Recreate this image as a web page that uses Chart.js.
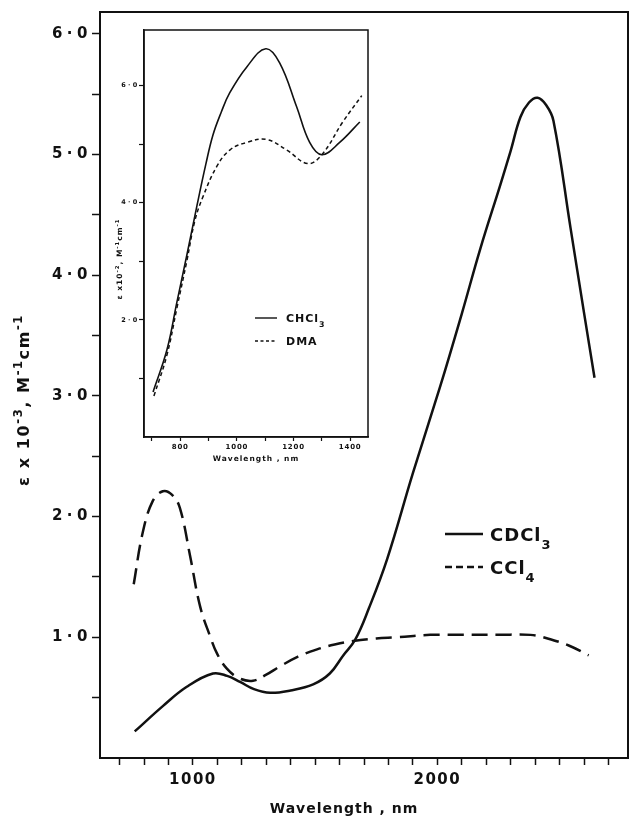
<!DOCTYPE html>
<html><head><meta charset="utf-8">
<script src="https://cdn.jsdelivr.net/npm/chart.js@4.4.1/dist/chart.umd.min.js"></script>
<style>
html,body{margin:0;padding:0;background:#fff;}
#wrap{position:relative;width:630px;height:822px;overflow:hidden;}
#main{position:absolute;left:0;top:0;}
#inset{position:absolute;left:104px;top:24px;}
</style></head><body>
<div id="wrap"><canvas id="main" width="630" height="822"></canvas><canvas id="inset" width="268" height="444"></canvas></div>
<script>
// ---- Main chart data (wavelength nm, epsilon x 10^-3) ----
const wlCDCl3  = [762, 877, 975, 1082, 1140, 1193, 1250, 1316, 1400, 1492, 1560, 1615, 1664, 1720, 1795, 1900, 2012, 2100, 2176, 2258, 2300, 2340, 2375, 2410, 2445, 2475, 2545, 2600, 2643];
const epsCDCl3 = [0.22, 0.43, 0.59, 0.70, 0.68, 0.63, 0.57, 0.54, 0.56, 0.61, 0.70, 0.85, 0.98, 1.24, 1.65, 2.36, 3.08, 3.68, 4.22, 4.75, 5.03, 5.31, 5.43, 5.47, 5.41, 5.28, 4.39, 3.69, 3.15];
const wlCCl4   = [758, 795, 836, 877, 915, 947, 988, 1029, 1070, 1100, 1139, 1190, 1246, 1300, 1357, 1430, 1508, 1580, 1656, 1750, 1836, 1971, 2100, 2250, 2381, 2451, 2540, 2619];
const epsCCl4  = [1.44, 1.87, 2.13, 2.21, 2.18, 2.07, 1.68, 1.26, 1.01, 0.86, 0.74, 0.66, 0.64, 0.69, 0.76, 0.84, 0.90, 0.94, 0.97, 0.99, 1.00, 1.02, 1.02, 1.02, 1.02, 0.99, 0.93, 0.85];
const mainXTicks  = [700, 800, 900, 1000, 1100, 1200, 1300, 1400, 1500, 1600, 1700, 1800, 1900, 2000, 2100, 2200, 2300, 2400, 2500, 2600, 2700];
const mainXLabels = [1000, 2000];
const mainYTicks  = [0.5, 1, 1.5, 2, 2.5, 3, 3.5, 4, 4.5, 5, 5.5, 6];
const mainYLabels = [1, 2, 3, 4, 5, 6];

// ---- Inset data (wavelength nm, epsilon x 10^-2) ----
const wlCHCl3  = [704, 753, 788, 823, 859, 890, 915, 945, 975, 1035, 1102, 1151, 1211, 1257, 1300, 1363, 1434];
const epsCHCl3 = [0.77, 1.49, 2.30, 3.10, 3.95, 4.65, 5.15, 5.55, 5.88, 6.32, 6.63, 6.39, 5.64, 5.03, 4.82, 5.03, 5.38];
const wlDMA    = [707, 753, 788, 823, 852, 880, 929, 975, 1035, 1105, 1176, 1250, 1300, 1374, 1441];
const epsDMA   = [0.70, 1.40, 2.20, 3.00, 3.70, 4.10, 4.62, 4.90, 5.03, 5.08, 4.90, 4.67, 4.82, 5.38, 5.83];
const insetXTicks  = [700, 800, 900, 1000, 1100, 1200, 1300, 1400];
const insetXLabels = [800, 1000, 1200, 1400];
const insetYTicks  = [1, 2, 3, 4, 5, 6];
const insetYLabels = [2, 4, 6];

const INK = '#111';
const FAM = '"DejaVu Sans", "Liberation Sans", sans-serif';
const pts = (xs, ys) => xs.map((x, i) => ({x, y: ys[i]}));
const dotFmt = v => v.toFixed(1).replace('.', '\u200A\u00B7\u200A');
const setTicks = list => (s => { s.ticks = list.map(v => ({value: v})); });

function drawRich(ctx, parts, x, y, size, align) {
  const f = s => `bold ${s}px ${FAM}`;
  let total = 0;
  const ws = parts.map(([t, m]) => { ctx.font = f(m ? size * 0.72 : size); const w = ctx.measureText(t).width; total += w; return w; });
  let cx = align === 'center' ? x - total / 2 : x;
  ctx.textAlign = 'left';
  ctx.textBaseline = 'alphabetic';
  parts.forEach(([t, m], i) => {
    ctx.font = f(m ? size * 0.72 : size);
    const dy = m === 1 ? -size * 0.45 : (m === -1 ? size * 0.45 : 0);
    ctx.fillText(t, cx, y + dy);
    cx += ws[i];
  });
}

function spacingPlugin(name, sp) {
  return { id: name, beforeDraw(chart) { chart.ctx.letterSpacing = sp + 'px'; } };
}

const mainDecor = {
  id: 'mainDecor',
  afterDraw(chart) {
    const {ctx, chartArea: a} = chart;
    ctx.save();
    ctx.strokeStyle = INK; ctx.lineWidth = 2;
    ctx.strokeRect(a.left, a.top, a.right - a.left, a.bottom - a.top);
    ctx.fillStyle = INK;
    ctx.letterSpacing = '1px';
    drawRich(ctx, [['Wavelength , nm', 0]], 344, 813, 14, 'center');
    ctx.save();
    ctx.translate(29, 400);
    ctx.rotate(-Math.PI / 2);
    ctx.letterSpacing = '1.6px';
    drawRich(ctx, [['\u03B5 x 10', 0], ['-3', 1], [', M', 0], ['-1', 1], ['cm', 0], ['-1', 1]], 0, 0, 16, 'center');
    ctx.restore();
    const rows = [[534, [['CDCl', 0], ['3', -1]], []], [567, [['CCl', 0], ['4', -1]], [7, 4]]];
    rows.forEach(([y, parts, dash]) => {
      ctx.save();
      ctx.strokeStyle = INK; ctx.lineWidth = 2.5;
      ctx.setLineDash(dash);
      ctx.beginPath(); ctx.moveTo(445, y); ctx.lineTo(483, y); ctx.stroke();
      ctx.restore();
      drawRich(ctx, parts, 490, y + 7, 18, 'left');
    });
    ctx.restore();
  }
};

const insetDecor = {
  id: 'insetDecor',
  afterDraw(chart) {
    const {ctx, chartArea: a} = chart;
    ctx.save();
    ctx.strokeStyle = INK; ctx.lineWidth = 1.5;
    ctx.strokeRect(a.left, a.top, a.right - a.left, a.bottom - a.top);
    ctx.fillStyle = INK;
    ctx.letterSpacing = '1px';
    drawRich(ctx, [['Wavelength , nm', 0]], 152, 437, 7.5, 'center');
    ctx.save();
    ctx.translate(18, 235);
    ctx.rotate(-Math.PI / 2);
    drawRich(ctx, [['\u03B5 x10', 0], ['-2', 1], [', M', 0], ['-1', 1], ['cm', 0], ['-1', 1]], 0, 0, 7.5, 'center');
    ctx.restore();
    const rows = [[294, [['CHCl', 0], ['3', -1]], []], [317, [['DMA', 0]], [3, 2.5]]];
    rows.forEach(([y, parts, dash]) => {
      ctx.save();
      ctx.strokeStyle = INK; ctx.lineWidth = 1.4;
      ctx.setLineDash(dash);
      ctx.beginPath(); ctx.moveTo(151, y); ctx.lineTo(173, y); ctx.stroke();
      ctx.restore();
      drawRich(ctx, parts, 182, y + 4, 11, 'left');
    });
    ctx.restore();
  }
};

const tickFont = s => ({family: FAM, weight: 'bold', size: s});

new Chart(document.getElementById('main'), {
  type: 'line',
  data: { datasets: [
    { label: 'CDCl3', data: pts(wlCDCl3, epsCDCl3), borderColor: INK, borderWidth: 2.5, pointRadius: 0, tension: 0.4, fill: false },
    { label: 'CCl4', data: pts(wlCCl4, epsCCl4), borderColor: INK, borderWidth: 2.5, borderDash: [16, 8], pointRadius: 0, tension: 0.4, fill: false }
  ]},
  options: {
    responsive: false, animation: false, events: [],
    layout: { padding: { top: 12, right: 2, left: 0, bottom: 0 } },
    plugins: { legend: { display: false }, tooltip: { enabled: false } },
    scales: {
      x: {
        type: 'linear', min: 620, max: 2780,
        afterBuildTicks: setTicks(mainXTicks),
        afterFit: s => { s.height = 64; },
        grid: { drawOnChartArea: false, drawTicks: true, tickLength: 7, color: INK, tickColor: INK, tickWidth: 1.5 },
        border: { display: true, color: INK, width: 2 },
        ticks: { autoSkip: false, maxRotation: 0, padding: 6, color: INK, font: tickFont(15),
          callback: v => mainXLabels.includes(v) ? String(v) : '' }
      },
      y: {
        type: 'linear', min: 0, max: 6.18,
        afterBuildTicks: setTicks(mainYTicks),
        afterFit: s => { s.width = 100; },
        grid: { drawOnChartArea: false, drawTicks: true, tickLength: 8, color: INK, tickColor: INK, tickWidth: 1.5 },
        border: { display: true, color: INK, width: 2 },
        ticks: { autoSkip: false, padding: 3, color: INK, font: tickFont(15),
          callback: v => mainYLabels.includes(v) ? dotFmt(v) : '' }
      }
    }
  },
  plugins: [spacingPlugin('spMain', 1.5), mainDecor]
});

new Chart(document.getElementById('inset'), {
  type: 'line',
  data: { datasets: [
    { label: 'CHCl3', data: pts(wlCHCl3, epsCHCl3), borderColor: INK, borderWidth: 1.6, pointRadius: 0, tension: 0.4, fill: false },
    { label: 'DMA', data: pts(wlDMA, epsDMA), borderColor: INK, borderWidth: 1.5, borderDash: [4, 3], pointRadius: 0, tension: 0.4, fill: false }
  ]},
  options: {
    responsive: false, animation: false, events: [],
    layout: { padding: { top: 6, right: 4, left: 0, bottom: 0 } },
    plugins: { legend: { display: false }, tooltip: { enabled: false } },
    scales: {
      x: {
        type: 'linear', min: 672, max: 1463,
        afterBuildTicks: setTicks(insetXTicks),
        afterFit: s => { s.height = 31; },
        grid: { drawOnChartArea: false, drawTicks: true, tickLength: 4, color: INK, tickColor: INK, tickWidth: 1.2 },
        border: { display: true, color: INK, width: 1.5 },
        ticks: { autoSkip: false, maxRotation: 0, padding: 2, color: INK, font: tickFont(7),
          callback: v => insetXLabels.includes(v) ? String(v) : '' }
      },
      y: {
        type: 'linear', min: 0, max: 6.95,
        afterBuildTicks: setTicks(insetYTicks),
        afterFit: s => { s.width = 40; },
        grid: { drawOnChartArea: false, drawTicks: true, tickLength: 5, color: INK, tickColor: INK, tickWidth: 1.2 },
        border: { display: true, color: INK, width: 1.5 },
        ticks: { autoSkip: false, padding: 1, color: INK, font: tickFont(6.5),
          callback: v => insetYLabels.includes(v) ? dotFmt(v) : '' }
      }
    }
  },
  plugins: [spacingPlugin('spInset', 0.8), insetDecor]
});
</script>
</body></html>
